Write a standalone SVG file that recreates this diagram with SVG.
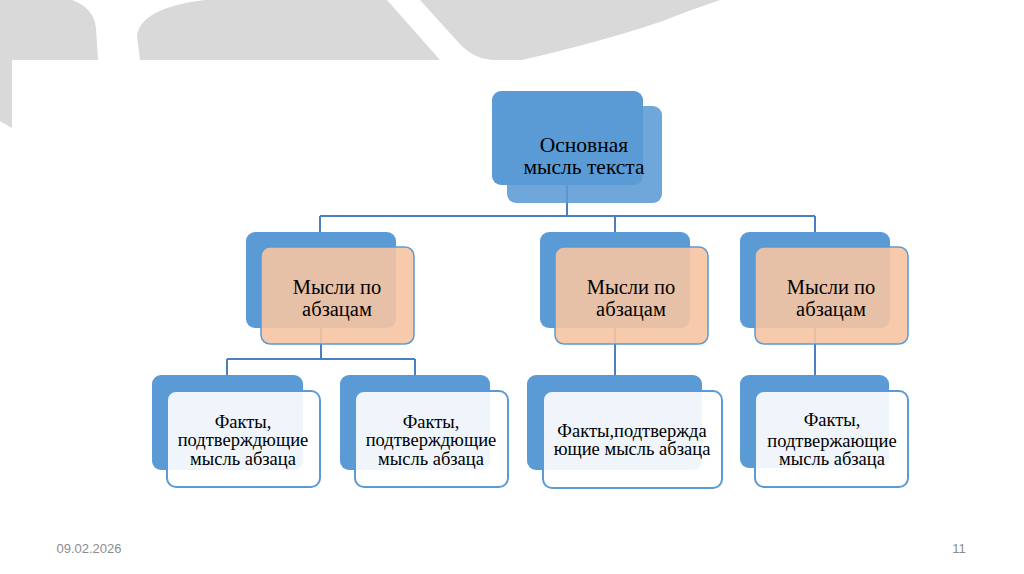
<svg xmlns="http://www.w3.org/2000/svg" width="1024" height="574" viewBox="0 0 1024 574">
<defs>
<style>
.bg{fill:#d9d9d9}
.back{fill:#5b9bd5}
.topf{fill:#5b9bd5;fill-opacity:0.88}
.peach{fill:#f6c4a3;fill-opacity:0.9;stroke:#5b9bd5;stroke-width:1.5}
.leaf{fill:#ffffff;fill-opacity:0.9;stroke:#5b9bd5;stroke-width:2}
.conn{fill:none;stroke:#4a80c0;stroke-width:2}
.t{font-family:'Liberation Serif','DejaVu Serif',serif;fill:#000;text-anchor:middle}
.t1{font-size:21.5px}
.t2{font-size:20.5px}
.t3{font-size:18.5px}
.foot{font-family:'Liberation Sans',Arial,sans-serif;font-size:13px;fill:#8c8c8c;text-anchor:middle}
</style>
</defs>
<rect width="1024" height="574" fill="#ffffff"/>
<g id="background">
<path class="bg" d="M0,0 L72,0 Q94,8 96,28 L98,60 L12,60 L12,128 L0,121 Z"/>
<path class="bg" d="M140,60 L137,36 Q140,8 205,0 L387,0 L440,60 Z"/>
<path class="bg" d="M420,0 L458,42 Q472,58 492,60 L522,60 Q600,42 660,22 Q690,10 720,0 Z"/>
</g>
<g id="connectors">
<path class="conn" d="M567,185 V216 M320,216 H815 M320,216 V232 M615,216 V232 M815,216 V232"/>
<path class="conn" d="M321,328 V359 M227,359 H415 M227,359 V375 M415,359 V375"/>
<path class="conn" d="M615,328 V375"/>
<path class="conn" d="M815,328 V375"/>
</g>
<g id="node-main">
<rect class="back" x="492" y="91" width="151" height="94" rx="9"/>
<rect class="topf" x="507" y="106" width="155" height="97" rx="9"/>
<text class="t t1" x="584" y="152">Основная</text>
<text class="t t1" x="584" y="174">мысль текста</text>
</g>
<g id="node-p1">
<rect class="back" x="246" y="232" width="150" height="96" rx="9"/>
<rect class="peach" x="261" y="247" width="153" height="97" rx="9"/>
<text class="t t2" x="337" y="294">Мысли по</text>
<text class="t t2" x="337" y="316">абзацам</text>
</g>
<g id="node-p2">
<rect class="back" x="540" y="232" width="150" height="96" rx="9"/>
<rect class="peach" x="555" y="247" width="153" height="97" rx="9"/>
<text class="t t2" x="631" y="294">Мысли по</text>
<text class="t t2" x="631" y="316">абзацам</text>
</g>
<g id="node-p3">
<rect class="back" x="740" y="232" width="150" height="96" rx="9"/>
<rect class="peach" x="755" y="247" width="153" height="97" rx="9"/>
<text class="t t2" x="831" y="294">Мысли по</text>
<text class="t t2" x="831" y="316">абзацам</text>
</g>
<g id="node-f1">
<rect class="back" x="152" y="375" width="151" height="95" rx="9"/>
<rect class="leaf" x="167" y="391" width="153" height="96" rx="9"/>
<text class="t t3" x="243" y="428">Факты,</text>
<text class="t t3" x="243" y="446">подтверждющие</text>
<text class="t t3" x="243" y="465">мысль абзаца</text>
</g>
<g id="node-f2">
<rect class="back" x="340" y="375" width="150" height="95" rx="9"/>
<rect class="leaf" x="355" y="391" width="153" height="96" rx="9"/>
<text class="t t3" x="431" y="428">Факты,</text>
<text class="t t3" x="431" y="446">подтверждющие</text>
<text class="t t3" x="431" y="465">мысль абзаца</text>
</g>
<g id="node-f3">
<rect class="back" x="527" y="375" width="175" height="95" rx="9"/>
<rect class="leaf" x="543" y="391" width="179" height="97" rx="9"/>
<text class="t t3" x="632" y="437">Факты,подтвержда</text>
<text class="t t3" x="632" y="455">ющие мысль абзаца</text>
</g>
<g id="node-f4">
<rect class="back" x="740" y="375" width="149" height="93" rx="9"/>
<rect class="leaf" x="755" y="391" width="153" height="96" rx="9"/>
<text class="t t3" x="832" y="426">Факты,</text>
<text class="t t3" x="832" y="447">подтвержающие</text>
<text class="t t3" x="832" y="465">мысль абзаца</text>
</g>
<g id="footer">
<text class="foot" x="89" y="553">09.02.2026</text>
<text class="foot" x="959" y="553">11</text>
</g>
</svg>
